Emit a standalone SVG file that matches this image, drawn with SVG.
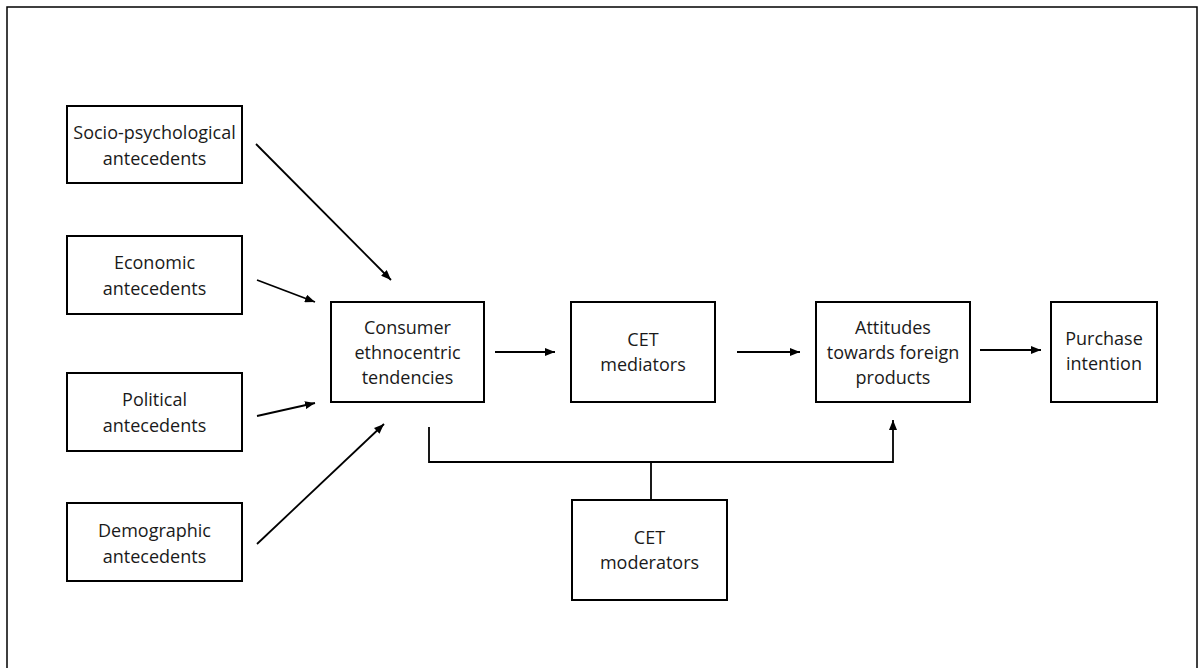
<svg xmlns="http://www.w3.org/2000/svg" width="1203" height="668" viewBox="0 0 1203 668">
  <style>
    .box { fill: #ffffff; stroke: #000000; stroke-width: 2; }
    .lbl { font-family: "Open Sans", "Liberation Sans", sans-serif; font-size: 18px; fill: #1a1a1a; text-anchor: middle; dominant-baseline: central; }
    .edge { fill: none; stroke: #000000; stroke-width: 1.8; }
    .arrow { marker-end: url(#head); }
  </style>
  <defs>
    <marker id="head" viewBox="0 0 10 8" refX="10" refY="4" markerWidth="10" markerHeight="8" markerUnits="userSpaceOnUse" orient="auto">
      <path d="M0,0 L10,4 L0,8 Z" fill="#000000"/>
    </marker>
  </defs>

  <!-- outer frame -->
  <rect x="7" y="7" width="1190" height="680" fill="#ffffff" stroke="#000000" stroke-width="1.5"/>

  <!-- connectors -->
  <g id="connectors">
    <line class="edge arrow" x1="256" y1="144" x2="391" y2="280"/>
    <line class="edge arrow" x1="257" y1="280" x2="315" y2="302"/>
    <line class="edge arrow" x1="257" y1="416" x2="315" y2="403"/>
    <line class="edge arrow" x1="257" y1="544" x2="384" y2="424"/>
    <line class="edge arrow" x1="495" y1="352" x2="555" y2="352"/>
    <line class="edge arrow" x1="737" y1="352" x2="800" y2="352"/>
    <line class="edge arrow" x1="980" y1="350" x2="1041" y2="350"/>
    <polyline class="edge arrow" points="429,427 429,462 893,462 893,420"/>
    <line class="edge" x1="651" y1="462" x2="651" y2="500"/>
  </g>

  <g id="socio">
    <rect class="box" x="67" y="106" width="175" height="77"/>
    <text class="lbl" x="154.5" y="132">Socio-psychological</text>
    <text class="lbl" x="154.5" y="158">antecedents</text>
  </g>
  <g id="economic">
    <rect class="box" x="67" y="236" width="175" height="78"/>
    <text class="lbl" x="154.5" y="262">Economic</text>
    <text class="lbl" x="154.5" y="288">antecedents</text>
  </g>
  <g id="political">
    <rect class="box" x="67" y="373" width="175" height="78"/>
    <text class="lbl" x="154.5" y="399">Political</text>
    <text class="lbl" x="154.5" y="425">antecedents</text>
  </g>
  <g id="demographic">
    <rect class="box" x="67" y="503" width="175" height="78"/>
    <text class="lbl" x="154.5" y="530">Demographic</text>
    <text class="lbl" x="154.5" y="556">antecedents</text>
  </g>
  <g id="consumer">
    <rect class="box" x="331" y="302" width="153" height="100"/>
    <text class="lbl" x="407.5" y="327">Consumer</text>
    <text class="lbl" x="407.5" y="352">ethnocentric</text>
    <text class="lbl" x="407.5" y="377">tendencies</text>
  </g>
  <g id="mediators">
    <rect class="box" x="571" y="302" width="144" height="100"/>
    <text class="lbl" x="643" y="339">CET</text>
    <text class="lbl" x="643" y="364">mediators</text>
  </g>
  <g id="attitudes">
    <rect class="box" x="816" y="302" width="154" height="100"/>
    <text class="lbl" x="893" y="327">Attitudes</text>
    <text class="lbl" x="893" y="352">towards foreign</text>
    <text class="lbl" x="893" y="377">products</text>
  </g>
  <g id="purchase">
    <rect class="box" x="1051" y="302" width="106" height="100"/>
    <text class="lbl" x="1104" y="338">Purchase</text>
    <text class="lbl" x="1104" y="363">intention</text>
  </g>
  <g id="moderators">
    <rect class="box" x="572" y="500" width="155" height="100"/>
    <text class="lbl" x="649.5" y="537">CET</text>
    <text class="lbl" x="649.5" y="562">moderators</text>
  </g>
</svg>
